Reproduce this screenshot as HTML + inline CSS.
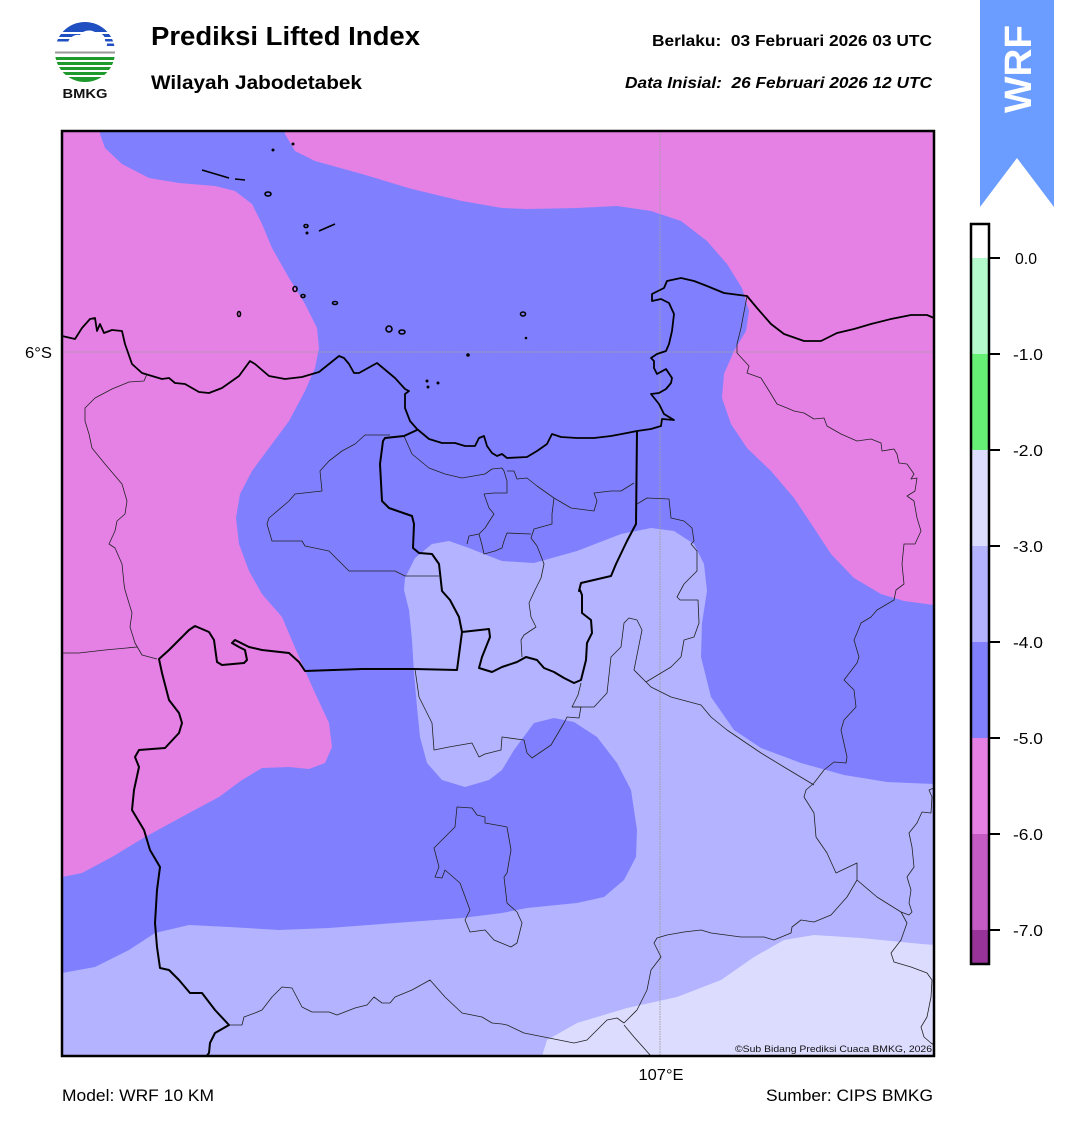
<!DOCTYPE html>
<html><head><meta charset="utf-8"><style>
html,body{margin:0;padding:0;background:#fff;}
svg{display:block;font-family:"Liberation Sans",Arial,sans-serif;}
</style></head><body>
<svg width="1068" height="1128" viewBox="0 0 1068 1128" xmlns="http://www.w3.org/2000/svg">
<defs>
<clipPath id="mapclip"><rect x="62" y="131" width="872" height="925"/></clipPath>
<clipPath id="logoclip"><circle cx="85" cy="52" r="30"/></clipPath>
</defs>
<rect width="1068" height="1128" fill="#fff"/>

<!-- Logo -->
<g clip-path="url(#logoclip)">
<rect x="50" y="20" width="70" height="12" fill="#1f4fc0"/>
<rect x="50" y="34" width="70" height="3" fill="#1f4fc0"/>
<rect x="50" y="39" width="70" height="2.5" fill="#1f4fc0"/>
<rect x="95" y="43.5" width="25" height="2.5" fill="#1f4fc0"/>
<path d="M68,44 C68,38 74,34 80,35 C83,30 92,29 96,33 C101,32 106,36 105,41 C108,42 108,47 104,48 L70,48 C66,48 66,44 68,44 Z" fill="#fff"/>
<rect x="50" y="51.5" width="70" height="2" fill="#9a9a9a"/>
<rect x="50" y="57" width="70" height="3" fill="#1e9a2c"/>
<rect x="50" y="62" width="70" height="3" fill="#1e9a2c"/>
<rect x="50" y="67" width="70" height="3" fill="#1e9a2c"/>
<rect x="50" y="72" width="70" height="3" fill="#1e9a2c"/>
<rect x="50" y="77" width="70" height="6" fill="#1e9a2c"/>
</g>
<text x="85" y="98" font-size="12.5" font-weight="bold" text-anchor="middle" textLength="45" lengthAdjust="spacingAndGlyphs" fill="#111">BMKG</text>

<!-- Header -->
<text x="151" y="45" font-size="25.5" font-weight="bold" textLength="269" lengthAdjust="spacingAndGlyphs" fill="#000">Prediksi Lifted Index</text>
<text x="151" y="89" font-size="19.5" font-weight="bold" textLength="211" lengthAdjust="spacingAndGlyphs" fill="#000">Wilayah Jabodetabek</text>
<text x="932" y="46" font-size="15.5" font-weight="bold" text-anchor="end" textLength="280" lengthAdjust="spacingAndGlyphs" fill="#000" xml:space="preserve">Berlaku:  03 Februari 2026 03 UTC</text>
<text x="932" y="88" font-size="15.5" font-weight="bold" font-style="italic" text-anchor="end" textLength="307" lengthAdjust="spacingAndGlyphs" fill="#000" xml:space="preserve">Data Inisial:  26 Februari 2026 12 UTC</text>

<!-- WRF ribbon -->
<path d="M980,0 L1054,0 L1054,207 L1017,158 L980,207 Z" fill="#6a9dff"/>
<text transform="translate(1031,69) rotate(-90)" font-size="38" font-weight="bold" fill="#fff" text-anchor="middle" textLength="88" lengthAdjust="spacingAndGlyphs">WRF</text>

<!-- Map -->
<g clip-path="url(#mapclip)">
<rect x="62" y="131" width="872" height="925" fill="#8080ff"/>
<path fill="#e580e5" d="M62,131 L100,131 L100,134 L105,148 L122,164 L149,178 L179,183 L215,186 L235,191 L252,204 L262,224 L272,248 L289,278 L305,304 L317,328 L319,348 L315,368 L305,391 L289,421 L269,448 L252,471 L240,494 L236,518 L239,544 L249,571 L262,594 L282,617 L299,657 L315,693 L329,723 L332,747 L325,763 L309,769 L289,767 L262,768 L242,780 L219,797 L189,813 L145,837 L112,857 L82,873 L62,877 Z"/>
<path fill="#e580e5" d="M285,131 L285,134 L295,151 L315,161 L362,174 L412,189 L462,201 L502,208 L527,209 L577,208 L617,206 L651,211 L681,221 L707,241 L727,264 L742,288 L749,311 L746,331 L734,351 L724,374 L722,398 L731,424 L747,448 L771,471 L794,498 L814,528 L831,554 L854,578 L881,594 L904,601 L934,605 L934,131 Z"/>
<path fill="#b3b3ff" d="M62,973 L95,967 L129,950 L155,933 L189,925 L229,927 L279,930 L329,928 L395,923 L462,918 L502,913 L527,908 L577,903 L604,897 L624,880 L636,857 L637,830 L631,790 L617,763 L597,737 L574,722 L554,718 L534,723 L514,750 L502,770 L489,780 L465,787 L442,780 L427,763 L420,737 L417,707 L414,673 L412,640 L409,610 L404,590 L405,578 L415,558 L432,544 L449,541 L469,548 L489,556 L502,561 L534,563 L577,551 L621,534 L651,528 L674,531 L694,544 L704,564 L707,591 L702,623 L701,657 L711,697 L734,730 L761,748 L801,763 L844,775 L887,782 L934,784 L934,1056 L62,1056 Z"/>
<path fill="#dcdcff" d="M542,1056 L547,1040 L577,1023 L627,1008 L677,997 L721,980 L754,957 L784,940 L814,935 L861,938 L911,943 L934,945 L934,1056 Z"/>

<!-- grid -->
<line x1="62" y1="352" x2="934" y2="352" stroke="#a0a0a0" stroke-width="1" stroke-dasharray="1.5,1"/>
<line x1="660" y1="131" x2="660" y2="1056" stroke="#a0a0a0" stroke-width="1" stroke-dasharray="1.5,1"/>

<!-- thin borders -->
<g fill="none" stroke="#222" stroke-width="0.8" stroke-linejoin="round">
<polyline points="147,374 144,381 129,382 112,389 95,398 85,408 85,421 89,434 92,448 105,464 122,484 127,501 125,514 117,521 115,531 109,544 115,548 122,564 124,584 125,590 132,613 130,627 135,643 142,655 157,659"/>
<polyline points="62,653 79,653 105,650 137,647"/>
<polyline points="404,436 412,454 429,468 445,474 462,478 485,474 492,469 502,468 504,471 507,481 507,493 494,493 484,494 489,508 494,514 485,528 479,534 469,536 467,544"/>
<polyline points="479,534 482,545 484,554 495,551 502,548 504,541 507,533 531,534"/>
<polyline points="390,435 365,435 355,444 342,451 329,461 320,471 322,491 295,494 289,501 269,518 267,524 272,541 302,541 305,546 329,551 339,561 349,571 395,571 405,576 439,576"/>
<polyline points="507,471 514,471 517,479 527,478 537,486 554,498 571,508 594,511 597,501 594,493 611,491 621,491 634,483"/>
<polyline points="554,498 552,514 552,524 534,529 531,538 537,546 541,556 544,564 541,578 535,590 529,603 531,617 536,627 524,635 521,640 522,657"/>
<polyline points="637,504 647,498 669,499 671,518 684,521 692,528 694,541 691,544 697,551 697,571 684,584 677,597 680,600 698,600 699,623 694,637 684,640 681,657 671,667 646,682"/>
<polyline points="581,683 578,695 572,707 594,707 607,693 611,657 621,647 624,623 629,618 637,620 642,630 634,670 646,682 651,687 671,697 701,705 711,717 727,730 761,753 784,767 814,785"/>
<polyline points="415,669 419,697 432,723 434,750 449,747 472,743 479,757 485,754 501,750 502,737 524,740 527,753 532,758 551,745 564,723 567,717 579,718 581,707 572,707"/>
<polygon points="457,807 472,808 477,815 485,817 485,823 502,826 507,827 511,850 507,873 504,877 507,903 517,912 522,923 517,943 511,947 494,940 485,930 470,932 465,920 470,910 460,883 445,870 442,878 435,877 439,867 434,848 445,837 455,827"/>
<polyline points="229,1025 242,1025 244,1017 255,1013 262,1010 272,997 282,987 292,988 302,1007 312,1012 329,1012 337,1015 355,1008 367,1005 374,997 382,1003 390,1003 395,997 412,990 430,980 445,997 462,1013 482,1017 492,1023 502,1024 507,1025 524,1033 544,1037 574,1043 587,1040 597,1030 607,1020 617,1018 624,1023"/>
<polyline points="624,1023 627,1020 637,1010 647,990 651,970 661,957 654,943 657,938 667,935 684,932 701,930 711,933 741,937 764,937 774,940 791,933 792,927 801,920 814,922 831,915 847,897 857,880 857,863 836,873 827,853 816,837 814,813 804,797 806,790 814,783 824,770 834,762 846,763 847,757 841,730 844,720 856,707 854,690 844,680 857,663 859,657 854,640 857,633 861,623 871,617 877,610 894,600 896,590 904,584 902,564 904,544 915,544 921,531 917,518 914,501 907,496 915,491 917,478 911,479 914,474 907,464 899,463 897,454 894,449 882,451 881,443 871,439 857,441 841,434 827,426 824,418 814,419 804,413 794,411 787,408 777,404 771,394 761,378 747,373 749,366 737,353 737,344 741,328 747,296"/>
<polyline points="624,1025 634,1037 651,1056"/>
<polyline points="857,880 877,897 901,912 909,915 912,912 909,903 911,890 907,877 914,867 912,847 909,833 917,823 922,812 931,813 932,797 929,790 934,788"/>
<polyline points="901,912 907,923 901,940 891,953 894,962 911,967 927,973 932,980 931,997 927,1017 921,1027 924,1037 931,1043 934,1045"/>
</g>

<!-- coastline -->
<polyline fill="none" stroke="#000" stroke-width="1.8" stroke-linejoin="round" points="62,336 75,339 82,328 90,319 95,318 97,331 100,324 104,333 112,330 122,331 125,344 132,364 142,373 162,379 169,378 175,383 185,384 199,392 209,393 222,388 239,376 250,361 255,364 269,376 285,379 302,377 319,372 329,364 339,356 344,358 349,364 354,373 359,373 377,363 395,378 405,389 409,391 405,394 405,408 410,421 417,429 429,439 442,443 455,443 465,446 475,446 479,438 484,436 487,446 492,453 497,456 502,454 507,458 527,457 537,451 547,444 552,434 561,437 577,438 594,438 611,436 627,433 637,431 651,429 661,426 662,419 674,420 664,414 659,404 651,394 659,393 666,389 671,383 672,378 666,369 657,374 654,368 654,361 651,358 657,354 666,351 669,344 672,331 674,314 669,303 661,299 652,301 652,294 664,288 667,281 681,278 694,281 707,286 724,293 747,296 757,308 771,324 784,334 804,341 821,341 837,333 854,329 871,324 891,319 911,315 927,315 934,318"/>

<!-- thick province borders -->
<g fill="none" stroke="#000" stroke-width="2" stroke-linejoin="round">
<polyline points="417,430 404,436 385,438 383,441 380,464 382,501 389,508 412,516 414,524 413,548 419,553 432,554 439,564 442,591 450,600 459,617 462,632 489,629 490,637 482,657 479,668 492,672 502,667 517,662 526,657 537,660 544,668 554,672 564,678 574,683 581,680 586,660 587,643 592,633 591,620 582,613 582,595 580,590 579,591 581,583 611,576 616,564 627,541 636,524 637,431"/>
<polyline points="462,632 457,670 415,669 362,669 305,671 299,662 289,653 262,650 249,647 235,640 232,643 239,647 245,650 247,660 244,663 222,665 217,662 214,640 209,632 195,626 189,630 179,640 169,650 159,659 162,673 169,700 179,713 182,723 179,733 165,748 139,750 135,757 139,767 134,790 132,810 144,830 150,850 160,867 157,890 155,923 157,947 160,968 169,970 179,980 190,993 202,993 215,1010 229,1025 215,1033 210,1043 209,1053 205,1058"/>
</g>

<!-- islands -->
<g fill="none" stroke="#000" stroke-width="1.6">
<line x1="202" y1="170" x2="229" y2="178"/>
<line x1="235" y1="179" x2="245" y2="180"/>
<ellipse cx="268" cy="194" rx="3" ry="2"/>
<ellipse cx="306" cy="226" rx="2" ry="1.5"/>
<path d="M319,231 L335,224"/>
<ellipse cx="295" cy="289" rx="2" ry="2.5"/>
<ellipse cx="303" cy="296" rx="2" ry="1.5"/>
<ellipse cx="335" cy="303" rx="2.5" ry="1.5"/>
<ellipse cx="239" cy="314" rx="1.5" ry="2.5"/>
<ellipse cx="389" cy="329" rx="3" ry="3"/>
<ellipse cx="402" cy="332" rx="3" ry="2"/>
<ellipse cx="523" cy="314" rx="2.5" ry="2"/>
</g>
<g fill="#000">
<circle cx="273" cy="150" r="1.5"/><circle cx="293" cy="144" r="1.5"/>
<circle cx="307" cy="233" r="1.5"/><circle cx="468" cy="355" r="1.8"/>
<circle cx="427" cy="381" r="1.5"/><circle cx="428" cy="387" r="1.5"/>
<circle cx="438" cy="383" r="1.5"/><circle cx="526" cy="338" r="1.3"/>
</g>

<text x="932" y="1052" font-size="9.3" text-anchor="end" textLength="197" lengthAdjust="spacingAndGlyphs" fill="#111">©Sub Bidang Prediksi Cuaca BMKG, 2026</text>
</g>
<rect x="62" y="131" width="872" height="925" fill="none" stroke="#000" stroke-width="2.5"/>

<!-- axis labels -->
<text x="52" y="358" font-size="16" text-anchor="end" textLength="27" lengthAdjust="spacingAndGlyphs" fill="#000">6°S</text>
<text x="661" y="1080" font-size="16" text-anchor="middle" textLength="45" lengthAdjust="spacingAndGlyphs" fill="#000">107°E</text>
<text x="62" y="1101" font-size="16.5" textLength="152" lengthAdjust="spacingAndGlyphs" fill="#000">Model: WRF 10 KM</text>
<text x="933" y="1101" font-size="16.5" text-anchor="end" textLength="167" lengthAdjust="spacingAndGlyphs" fill="#000">Sumber: CIPS BMKG</text>

<!-- Colorbar -->
<rect x="971" y="224" width="18" height="34" fill="#ffffff"/>
<rect x="971" y="258" width="18" height="96" fill="#b3f9cb"/>
<rect x="971" y="354" width="18" height="96" fill="#66f076"/>
<rect x="971" y="450" width="18" height="96" fill="#dcdcff"/>
<rect x="971" y="546" width="18" height="96" fill="#b3b3ff"/>
<rect x="971" y="642" width="18" height="96" fill="#8080ff"/>
<rect x="971" y="738" width="18" height="96" fill="#e580e5"/>
<rect x="971" y="834" width="18" height="96" fill="#c45bc4"/>
<rect x="971" y="930" width="18" height="34" fill="#973399"/>
<rect x="971" y="224" width="18" height="740" fill="none" stroke="#000" stroke-width="2.5"/>
<g stroke="#000" stroke-width="2">
<line x1="990" y1="258" x2="1000" y2="258"/><line x1="990" y1="354" x2="1000" y2="354"/>
<line x1="990" y1="450" x2="1000" y2="450"/><line x1="990" y1="546" x2="1000" y2="546"/>
<line x1="990" y1="642" x2="1000" y2="642"/><line x1="990" y1="738" x2="1000" y2="738"/>
<line x1="990" y1="834" x2="1000" y2="834"/><line x1="990" y1="930" x2="1000" y2="930"/>
</g>
<g font-size="16" fill="#000" lengthAdjust="spacingAndGlyphs">
<text x="1015" y="264" textLength="22" lengthAdjust="spacingAndGlyphs">0.0</text>
<text x="1013" y="360" textLength="30" lengthAdjust="spacingAndGlyphs">-1.0</text>
<text x="1013" y="456" textLength="30" lengthAdjust="spacingAndGlyphs">-2.0</text>
<text x="1013" y="552" textLength="30" lengthAdjust="spacingAndGlyphs">-3.0</text>
<text x="1013" y="648" textLength="30" lengthAdjust="spacingAndGlyphs">-4.0</text>
<text x="1013" y="744" textLength="30" lengthAdjust="spacingAndGlyphs">-5.0</text>
<text x="1013" y="840" textLength="30" lengthAdjust="spacingAndGlyphs">-6.0</text>
<text x="1013" y="936" textLength="30" lengthAdjust="spacingAndGlyphs">-7.0</text>
</g>
</svg>
</body></html>
